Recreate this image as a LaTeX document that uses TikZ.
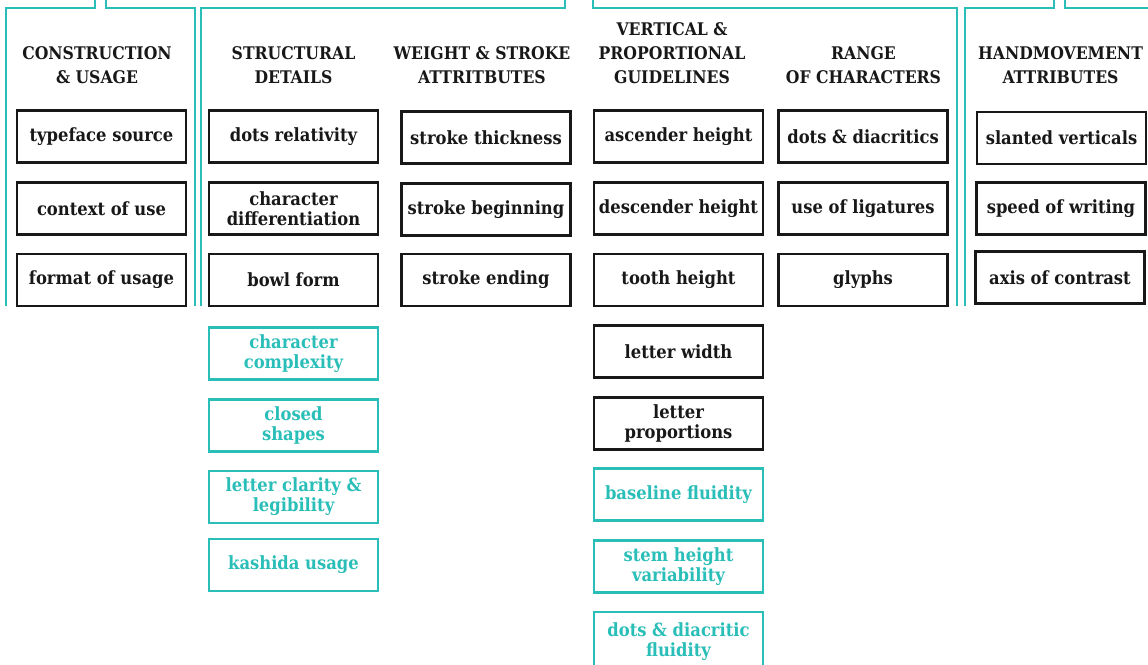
\documentclass[tikz,border=0pt]{standalone}
\usepackage{fontspec}
\setmainfont{DejaVu Serif Condensed}
\definecolor{teal1}{RGB}{42,190,184}
\definecolor{ink}{RGB}{24,24,24}
\begin{document}
\begin{tikzpicture}[x=1pt,y=-1pt,
  frame/.style={draw=teal1,line width=2.4pt},
  cell/.style={draw=ink,line width=2.2pt,minimum width=169pt,minimum height=52pt,
    inner sep=0pt,align=center,text=ink,
    font=\fontsize{18.2}{20}\selectfont\bfseries},
  tcell/.style={cell,draw=teal1,text=teal1},
  head/.style={align=center,text=ink,inner sep=0pt,
    font=\fontsize{17.4}{24}\selectfont\bfseries}]
\useasboundingbox (0,0) rectangle (1148,664);
\fill[white] (0,0) rectangle (1148,664);

% group brackets
\draw[frame] (6,306) -- (6,8) -- (95,8) -- (95,-3);
\draw[frame] (106,-3) -- (106,8) -- (195,8) -- (195,306);
\draw[frame] (201,306) -- (201,8) -- (565,8) -- (565,-3);
\draw[frame] (593,-3) -- (593,8) -- (957,8) -- (957,306);
\draw[frame] (965,306) -- (965,8) -- (1054,8) -- (1054,-3);
\draw[frame] (1065,-3) -- (1065,8) -- (1152,8);

% column headings
\node[head] (h1) at (97,65) {CONSTRUCTION\\\& USAGE};
\node[head] (h2) at (293.5,65) {STRUCTURAL\\DETAILS};
\node[head] (h3) at (482,65) {WEIGHT \& STROKE\\ATTRITBUTES};
\node[head] (h4) at (672,53) {VERTICAL \&\\PROPORTIONAL\\GUIDELINES};
\node[head] (h5) at (863.5,65) {RANGE\\OF CHARACTERS};
\node[head] (h6) at (1060.5,65) {HANDMOVEMENT\\ATTRIBUTES};

% construction & usage
\node[cell] (a1) at (101.5,136.5) {typeface source};
\node[cell] (a2) at (101.5,208.5) {context of use};
\node[cell] (a3) at (101.5,280) {format of usage};

% structural details
\node[cell] (b1) at (293.5,136.5) {dots relativity};
\node[cell] (b2) at (293.5,208.5) {character\\differentiation};
\node[cell] (b3) at (293.5,280) {bowl form};
\node[tcell] (b4) at (293.5,353.5) {character\\complexity};
\node[tcell] (b5) at (293.5,425.5) {closed\\shapes};
\node[tcell] (b6) at (293.5,497) {letter clarity \&\\legibility};
\node[tcell] (b7) at (293.5,565) {kashida usage};

% weight & stroke
\node[cell] (c1) at (486,137.5) {stroke thickness};
\node[cell] (c2) at (486,209.5) {stroke beginning};
\node[cell] (c3) at (486,280) {stroke ending};

% vertical & proportional
\node[cell] (d1) at (678.5,136.5) {ascender height};
\node[cell] (d2) at (678.5,208.5) {descender height};
\node[cell] (d3) at (678.5,280) {tooth height};
\node[cell] (d4) at (678.5,351.5) {letter width};
\node[cell] (d5) at (678.5,423.5) {letter\\proportions};
\node[tcell] (d6) at (678.5,494.5) {baseline fluidity};
\node[tcell] (d7) at (678.5,566.5) {stem height\\variability};
\node[tcell,minimum height=60pt] (d8) at (678.5,642) {dots \& diacritic\\fluidity};

% range of characters
\node[cell] (e1) at (863,136.5) {dots \& diacritics};
\node[cell] (e2) at (863,208.5) {use of ligatures};
\node[cell] (e3) at (863,280) {glyphs};

% handmovement
\node[cell] (f1) at (1061.5,138) {slanted verticals};
\node[cell] (f2) at (1061,208.5) {speed of writing};
\node[cell] (f3) at (1060,277.5) {axis of contrast};
\end{tikzpicture}
\end{document}
